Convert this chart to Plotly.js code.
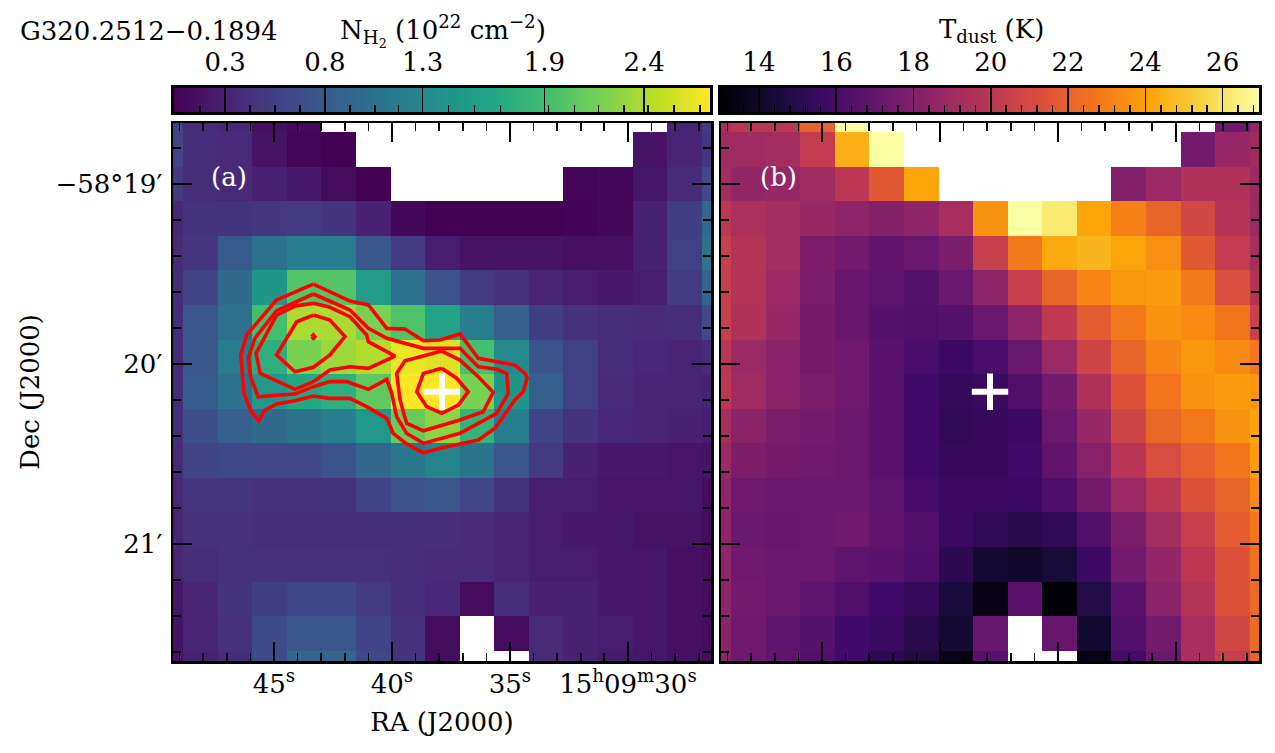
<!DOCTYPE html>
<html><head><meta charset="utf-8">
<script src="https://cdn.plot.ly/plotly-3.0.1.min.js"></script>
<style>html,body{margin:0;padding:0;background:#fff}#chart{width:1275px;height:753px}</style>
</head><body><div id="chart"></div>
<script>
// ---- data ----
var raStart = 49.59, raStep = -1.465;      // RA seconds of first pixel centre, pixel size
var decStart = -18.615, decStep = -0.1922; // Dec arcmin (-58 deg offset implied)
var n = null;
var columnDensity = [
[.58,.39,.34,.15,.10,n,n,n,n,n,n,n,n,n,n,.31,.50],
[.58,.39,.37,.18,.07,.04,n,n,n,n,n,n,n,n,.18,.31,.45],
[.50,.39,.37,.29,.23,.12,.04,n,n,n,n,n,.07,.10,.21,.37,.63],
[.34,.45,.45,.47,.50,.45,.29,.10,.04,.04,.04,.04,.06,.10,.29,.53,.98],
[.37,.47,.80,1.04,1.17,1.17,.77,.50,.26,.18,.18,.18,.15,.15,.29,.55,1.06],
[.39,.58,.98,1.44,2.0,2.0,1.52,1.04,.72,.50,.42,.31,.26,.23,.26,.50,.90],
[.39,.77,1.04,1.92,2.38,2.38,2.19,1.98,1.60,1.17,.85,.53,.42,.39,.37,.39,.63],
[.39,.77,1.17,1.74,2.19,2.33,2.41,2.65,2.60,1.92,1.31,.74,.55,.39,.34,.31,.37],
[.39,.80,1.04,1.47,1.66,1.74,2.06,2.73,2.73,2.19,1.44,.85,.55,.37,.31,.31,.29],
[.39,.69,.85,.98,1.06,1.17,1.47,2.11,2.27,1.79,1.17,.58,.45,.34,.31,.29,.26],
[.37,.58,.63,.63,.63,.74,.93,1.12,1.25,1.06,.77,.50,.29,.23,.23,.21,.18],
[.34,.47,.47,.42,.42,.45,.58,.72,.77,.61,.45,.26,.26,.21,.21,.21,.12],
[.33,.42,.42,.40,.40,.40,.40,.40,.40,.37,.31,.26,.23,.23,.18,.18,.12],
[.33,.39,.42,.42,.42,.42,.42,.40,.37,.37,.31,.26,.26,.23,.21,.15,.12],
[.21,.31,.45,.53,.61,.61,.50,.39,.34,.12,.39,.29,.29,.23,.21,.15,.12],
[.18,.31,.42,.66,.77,.77,.58,.42,.12,n,.12,.37,.29,.26,.21,.15,.12],
[.18,.29,.37,.66,.93,.93,.63,.45,.12,n,n,.37,.29,.23,.21,.15,.12]
];
var dustTemp = [
[19.42,19.98,19.98,22.07,26.94,n,n,n,n,n,n,n,n,n,n,17.34,18.59],
[19.0,19.0,19.14,20.26,24.43,26.94,n,n,n,n,n,n,n,n,17.47,18.73,19.0],
[19.14,18.59,18.73,19.0,19.98,21.65,24.16,n,n,n,n,n,18.03,18.87,19.56,19.56,18.87],
[19.98,19.42,19.14,18.73,18.45,18.03,18.45,19.28,23.6,26.94,26.2,24.16,23.04,22.07,20.82,19.7,18.87],
[20.4,19.7,19.14,17.89,17.47,16.92,17.2,17.75,20.4,22.76,24.3,24.57,24.16,23.46,21.65,20.26,19.28],
[20.4,19.7,18.87,17.75,17.06,16.78,16.5,17.2,18.45,20.4,22.07,23.18,23.74,23.88,22.76,21.23,19.7],
[20.4,19.56,18.73,17.61,17.06,16.5,16.36,16.5,17.2,18.45,20.12,21.79,22.76,23.6,23.32,22.62,20.54],
[19.84,18.87,18.31,17.61,17.34,16.64,16.08,15.66,16.08,17.2,18.87,20.68,22.07,23.18,23.74,23.32,22.76],
[19.98,19.0,18.31,17.75,17.34,16.64,15.8,15.39,15.53,16.36,17.47,19.56,21.37,22.62,23.6,23.88,23.74],
[19.28,18.31,17.75,17.47,17.2,16.64,15.8,15.25,15.39,15.66,17.2,18.73,20.68,22.2,22.76,23.6,24.16],
[18.87,17.89,17.61,17.34,17.2,16.64,15.8,15.39,15.39,15.8,16.92,18.17,19.84,21.09,21.93,22.62,23.88],
[18.45,17.34,17.2,17.2,17.2,16.78,15.94,15.53,15.53,15.66,16.22,17.61,18.87,19.98,21.37,22.07,23.32],
[18.45,17.2,17.06,17.2,17.34,16.92,16.36,15.53,15.25,14.97,15.25,16.36,17.75,19.14,20.4,21.79,22.76],
[18.45,17.34,17.2,17.2,16.78,16.64,16.22,15.11,14.27,14.0,14.41,15.66,17.47,18.59,19.98,21.37,22.49],
[18.45,17.47,17.2,16.78,16.36,15.8,15.39,14.55,13.44,16.64,13.16,14.83,16.64,18.31,19.7,21.37,22.35],
[18.31,17.34,16.78,16.5,15.8,15.53,14.97,14.27,17.06,n,17.06,14.13,16.36,17.47,19.28,20.82,22.35],
[18.31,17.34,16.92,16.36,15.8,15.11,14.69,13.44,16.5,n,n,13.44,15.94,17.2,19.28,20.4,22.07]
];
var contourOuterRA = [43.33,44.89,46.16,46.41,46.27,45.99,45.65,45.38,44.89,44.11,43.33,42.63,41.78,41.07,40.22,39.95,39.38,38.67,37.97,36.34,35.64,35.14,34.79,34.44,34.27,34.36,34.79,36.34,37.12,37.97,38.67,39.45,40.22,41.0,41.78,43.33];
var contourOuterDec = [-19.556,-19.644,-19.839,-19.95,-20.163,-20.256,-20.315,-20.256,-20.222,-20.204,-20.178,-20.191,-20.191,-20.237,-20.302,-20.385,-20.444,-20.494,-20.468,-20.422,-20.357,-20.265,-20.2,-20.154,-20.078,-20.052,-20.006,-19.968,-19.833,-19.867,-19.871,-19.806,-19.802,-19.672,-19.65,-19.556];
var contourSecondRA = [43.33,44.89,45.81,46.09,45.99,45.67,44.75,44.11,43.33,42.63,41.92,41.0,40.22,40.01,39.8,39.38,38.67,37.12,35.56,35.07,35.14,35.56,36.34,37.12,38.67,40.22,41.0,41.78,43.33];
var contourSecondDec = [-19.611,-19.704,-19.857,-19.968,-20.071,-20.182,-20.172,-20.167,-20.126,-20.098,-20.098,-20.141,-20.085,-20.163,-20.293,-20.385,-20.441,-20.385,-20.274,-20.163,-20.052,-20.029,-20.015,-19.913,-19.913,-19.857,-19.802,-19.7,-19.611];
var contourThirdWestRA = [43.33,44.11,44.89,45.76,45.59,44.11,43.33,42.63,41.78,41.0,39.87,41.0,41.07,41.78,42.63,43.33];
var contourThirdWestDec = [-19.663,-19.678,-19.728,-19.941,-20.052,-20.141,-20.098,-20.033,-20.015,-20.024,-19.956,-19.876,-19.839,-19.737,-19.685,-19.663];
var contourThirdEastRA = [37.89,39.45,39.8,39.66,39.38,38.67,37.12,36.13,35.71,36.34,37.12,37.89];
var contourThirdEastDec = [-19.928,-19.982,-20.052,-20.2,-20.329,-20.371,-20.311,-20.265,-20.157,-20.071,-19.978,-19.928];
var contourFourthWestRA = [43.33,44.04,44.46,44.89,44.11,43.33,42.63,41.99,42.63,43.33];
var contourFourthWestDec = [-19.728,-19.765,-19.857,-19.95,-20.043,-20.018,-19.95,-19.848,-19.756,-19.728];
var contourFourthEastRA = [37.89,38.67,38.95,38.53,37.89,37.19,36.77,37.26,37.89];
var contourFourthEastDec = [-20.024,-20.052,-20.154,-20.237,-20.274,-20.228,-20.154,-20.079,-20.024];
var contourPeakRA = [43.40,43.33,43.26,43.33,43.40];
var contourPeakDec = [-19.848,-19.838,-19.848,-19.858,-19.848];
var sourceRA = [37.88], sourceDec = [-20.154];

var raTickVals = [45,40,35,30];
var raTickText = ['45<sup>s</sup>','40<sup>s</sup>','35<sup>s</sup>','15<sup>h</sup>09<sup>m</sup>30<sup>s</sup>'];
var decTickVals = [-19,-20,-21];
var decTickText = ['\u221258\u00b019\u2032','20\u2032','21\u2032'];
var nMajorVals = [0.30,0.80,1.29,1.90,2.40];
var nMajorText = ['0.3','0.8','1.3','1.9','2.4'];
var nMinorVals = [.175,.425,.55,.675,.925,1.05,1.17,1.42,1.55,1.68,1.92,2.05,2.17,2.30,2.42,2.55,2.68];
var tMajorVals = [14,16,18,20,22,24,26];
var tMajorText = ['14','16','18','20','22','24','26'];
var tMinorVals = [13.6,14.4,14.8,15.2,15.6,16.4,16.8,17.2,17.6,18.4,18.8,19.2,19.6,20.4,20.8,21.2,21.6,22.4,22.8,23.2,23.6,24.4,24.8,25.2,25.6,26.4,26.8];
var nRange = [0.044,2.73];
var tRange = [13.02,26.94];
var raRange = [49.28,26.48];
var decRange = [-21.65,-18.661];

// ---- styles ----
var viridis = [[0,'#440154'],[.1,'#482475'],[.2,'#414487'],[.3,'#355f8d'],[.4,'#2a788e'],[.5,'#21918c'],[.6,'#22a884'],[.7,'#44bf70'],[.8,'#7ad151'],[.9,'#bddf26'],[1,'#fde725']];
var inferno = [[0,'#000004'],[.1,'#160b39'],[.2,'#420a68'],[.3,'#6a176e'],[.4,'#932667'],[.5,'#bc3754'],[.6,'#dd513a'],[.7,'#f37819'],[.8,'#fca50a'],[.9,'#f6d746'],[1,'#fcffa4']];
var W = 1275, H = 753, FONT = 'DejaVu Serif, serif', FS = 26;
function dx(a,b){return [a/W,b/W];}
function dy(top,bottom){return [1-bottom/H,1-top/H];}
var tf = {family:FONT,size:FS,color:'#000'};

function contour(xs,ys){
  return {type:'scatter',mode:'lines',x:xs,y:ys,xaxis:'x',yaxis:'y',line:{color:'#ff0000',width:3.6,shape:'linear'},hoverinfo:'skip',showlegend:false};
}
function cross(xa,ya){
  return {type:'scatter',mode:'markers',x:sourceRA,y:sourceDec,xaxis:xa,yaxis:ya,hoverinfo:'skip',showlegend:false,
    marker:{symbol:'cross-thin',size:26,color:'#fff',line:{color:'#fff',width:6}}};
}
function map(z,scale,range,xa,ya){
  return {type:'heatmap',z:z,x0:raStart,dx:raStep,y0:decStart,dy:decStep,xaxis:xa,yaxis:ya,colorscale:scale,zmin:range[0],zmax:range[1],showscale:false,zsmooth:false,hoverongaps:false};
}
function ramp(scale,range,xa,ya){
  return {type:'heatmap',z:[range,range],x:range,y:[0,1],xaxis:xa,yaxis:ya,colorscale:scale,zmin:range[0],zmax:range[1],showscale:false,zsmooth:'best',hoverinfo:'skip'};
}
function empty(xa,ya){return {type:'scatter',mode:'markers',x:[null],y:[null],xaxis:xa,yaxis:ya,showlegend:false,hoverinfo:'skip'};}

var traces = [
  map(columnDensity,viridis,nRange,'x','y'),
  contour(contourOuterRA,contourOuterDec),
  contour(contourSecondRA,contourSecondDec),
  contour(contourThirdWestRA,contourThirdWestDec),
  contour(contourThirdEastRA,contourThirdEastDec),
  contour(contourFourthWestRA,contourFourthWestDec),
  contour(contourFourthEastRA,contourFourthEastDec),
  contour(contourPeakRA,contourPeakDec),
  cross('x','y'),
  map(dustTemp,inferno,tRange,'x2','y2'),
  cross('x2','y2'),
  ramp(viridis,nRange,'x3','y3'),
  ramp(inferno,tRange,'x4','y4'),
  empty('x5','y5'),
  empty('x6','y6')
];

function mainX(domain,anchor,labels,title){
  var a = {domain:domain,anchor:anchor,range:raRange,autorange:false,
    tickmode:'array',tickvals:raTickVals,ticktext:raTickText,ticks:'inside',ticklen:19,tickwidth:1.7,tickcolor:'#000',
    minor:{tickmode:'linear',tick0:30,dtick:1,ticks:'inside',ticklen:8,tickwidth:1.7,tickcolor:'#000',showgrid:false},
    showline:true,linecolor:'#000',linewidth:2.5,mirror:'allticks',showgrid:false,zeroline:false,
    showticklabels:labels,tickfont:tf,tickangle:0,layer:'above traces',ticklabelstandoff:-2};
  if(title) a.title={text:title,font:tf,standoff:15};
  return a;
}
function mainY(domain,anchor,labels,title){
  var a = {domain:domain,anchor:anchor,range:decRange,autorange:false,
    tickmode:'array',tickvals:decTickVals,ticktext:decTickText,ticks:'inside',ticklen:19,tickwidth:1.7,tickcolor:'#000',
    minor:{tickmode:'linear',tick0:-21,dtick:0.2,ticks:'inside',ticklen:8,tickwidth:1.7,tickcolor:'#000',showgrid:false},
    showline:true,linecolor:'#000',linewidth:2.5,mirror:'allticks',showgrid:false,zeroline:false,
    showticklabels:labels,tickfont:tf,layer:'above traces',ticklabelstandoff:3};
  if(title) a.title={text:title,font:tf,standoff:9};
  return a;
}
function barX(domain,anchor,range,vals,text){
  return {domain:domain,anchor:anchor,range:range,autorange:false,side:'top',
    tickmode:'array',tickvals:vals,ticktext:text,ticks:'inside',ticklen:24,tickwidth:1.5,tickcolor:'#000',
    showline:true,linecolor:'#000',linewidth:3,mirror:true,showgrid:false,zeroline:false,
    tickfont:tf,tickangle:0,ticklabelstandoff:4};
}
function barY(domain,anchor){
  return {domain:domain,anchor:anchor,range:[0,1],autorange:false,showticklabels:false,ticks:'',
    showline:true,linecolor:'#000',linewidth:3,mirror:true,showgrid:false,zeroline:false};
}
function minorX(domain,anchor,range,vals){
  return {domain:domain,anchor:anchor,range:range,autorange:false,side:'bottom',
    tickmode:'array',tickvals:vals,ticks:'inside',ticklen:7,tickwidth:1.5,tickcolor:'#000',
    showticklabels:false,showline:false,showgrid:false,zeroline:false};
}
function minorY(domain,anchor){
  return {domain:domain,anchor:anchor,range:[0,1],autorange:false,visible:false};
}
var leftD = dx(173,711), rightD = dx(721,1259), mapY = dy(123,661);
var nD = dx(174,710), tD = dx(721,1259), barD = dy(88,112);

var layout = {
  width:W,height:H,margin:{l:0,r:0,t:0,b:0},paper_bgcolor:'#fff',plot_bgcolor:'rgba(0,0,0,0)',showlegend:false,
  font:{family:FONT,size:FS,color:'#000'},
  xaxis:mainX(leftD,'y',true,'RA (J2000)'),
  yaxis:mainY(mapY,'x',true,'Dec (J2000)'),
  xaxis2:mainX(rightD,'y2',false),
  yaxis2:mainY(mapY,'x2',false),
  xaxis3:barX(nD,'y3',nRange,nMajorVals,nMajorText),
  yaxis3:barY(barD,'x3'),
  xaxis4:barX(tD,'y4',tRange,tMajorVals,tMajorText),
  yaxis4:barY(barD,'x4'),
  xaxis5:minorX(nD,'y5',nRange,nMinorVals),
  yaxis5:minorY(barD,'x5'),
  xaxis6:minorX(tD,'y6',tRange,tMinorVals),
  yaxis6:minorY(barD,'x6'),
  annotations:[
    {xref:'paper',yref:'paper',x:18/W,y:1-31/H,xanchor:'left',yanchor:'middle',showarrow:false,text:'G320.2512\u22120.1894',font:tf},
    {xref:'paper',yref:'paper',x:443/W,y:1-31/H,xanchor:'center',yanchor:'middle',showarrow:false,text:'N<sub>H<sub>2</sub></sub> (10<sup>22</sup> cm<sup>\u22122</sup>)',font:tf},
    {xref:'paper',yref:'paper',x:991/W,y:1-31/H,xanchor:'center',yanchor:'middle',showarrow:false,text:'T<sub>dust</sub> (K)',font:tf},
    {xref:'paper',yref:'paper',x:229/W,y:1-177/H,xanchor:'center',yanchor:'middle',showarrow:false,text:'(a)',font:{family:FONT,size:FS,color:'#fff'}},
    {xref:'paper',yref:'paper',x:778/W,y:1-177/H,xanchor:'center',yanchor:'middle',showarrow:false,text:'(b)',font:{family:FONT,size:FS,color:'#fff'}}
  ]
};
Plotly.newPlot('chart',traces,layout,{displayModeBar:false,staticPlot:true});
</script></body></html>
